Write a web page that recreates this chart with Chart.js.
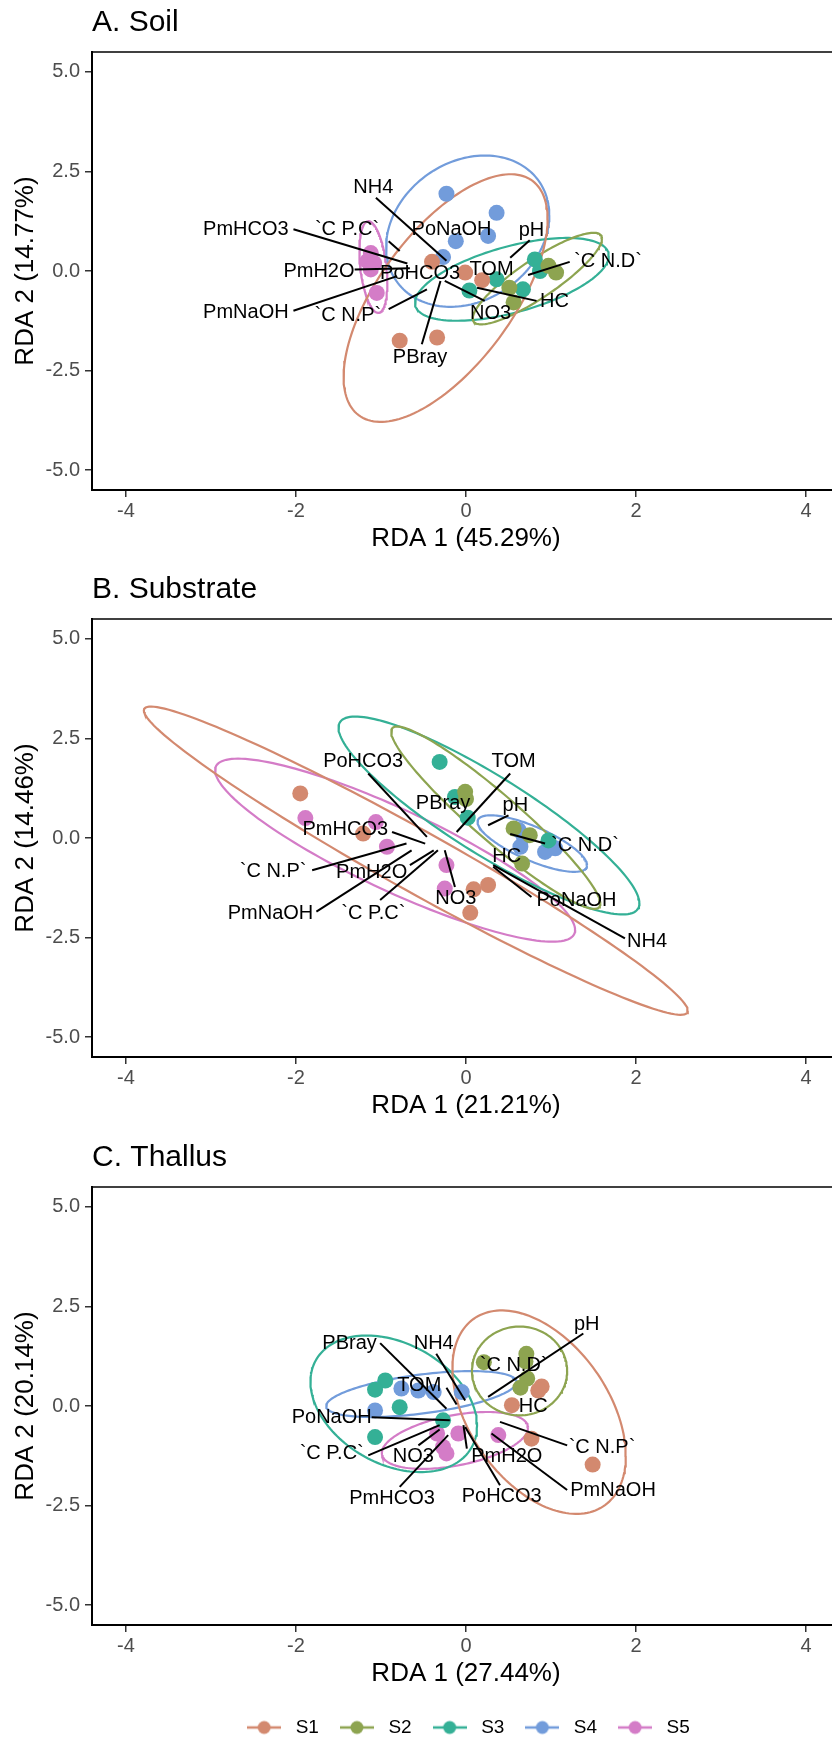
<!DOCTYPE html>
<html>
<head>
<meta charset="utf-8">
<script src="https://cdn.jsdelivr.net/npm/chart.js@4.4.1/dist/chart.umd.min.js"></script>
<style>
  html, body { margin:0; padding:0; background:#fff; width:832px; height:1742px; overflow:hidden; }
  canvas { position:absolute; left:0; }
</style>
</head>
<body>
<canvas id="cA" width="860" height="567" style="top:0px"></canvas>
<canvas id="cB" width="860" height="567" style="top:567px"></canvas>
<canvas id="cC" width="860" height="612" style="top:1135px"></canvas>
<script>
/* ---------- shared ---------- */
const groups = ['S1','S2','S3','S4','S5'];
const groupColors = ['#D3896F','#8DA450','#34B096','#729CDB','#D47CC7'];
const xTicks = [-4,-2,0,2,4];
const xTickLabels = ['-4','-2','0','2','4'];
const yTicks = [-5,-2.5,0,2.5,5];
const yTickLabels = ['-5.0','-2.5','0.0','2.5','5.0'];

/* ---------- A. Soil ---------- */
const soilS1 = [[-0.40,0.23],[-0.01,-0.04],[0.19,-0.23],[-0.78,-1.75],[-0.34,-1.67]];
const soilS2 = [[0.97,0.13],[1.06,-0.04],[0.51,-0.42],[0.56,-0.79]];
const soilS3 = [[0.04,-0.49],[0.36,-0.21],[0.67,-0.46],[0.81,0.29],[0.87,0.0]];
const soilS4 = [[-0.23,1.94],[0.36,1.46],[-0.12,0.75],[0.26,0.88],[-0.27,0.35]];
const soilS5 = [[-1.12,0.45],[-1.16,0.25],[-1.08,0.20],[-1.12,0.04],[-1.05,-0.55]];
// ellipse: centre x, centre y, half width, half height, y offset at right-most point
const soilEllipses = [[-0.24,-0.68,1.20,3.11,1.98],[0.84,-0.19,0.76,1.15,1.00],[0.54,-0.21,1.14,1.04,0.59],[0.02,1.00,0.96,1.90,0.40],[-1.09,0.10,0.165,1.15,-0.40]];
const soilVars = ['NH4','PmHCO3','`C P.C`','PoNaOH','pH','PmH2O','PoHCO3','TOM','`C N.D`','PmNaOH','`C N.P`','NO3','HC','PBray'];
const soilLabelPos = [[-1.09,2.09],[-2.59,1.05],[-1.40,1.05],[-0.17,1.05],[0.77,1.03],[-1.73,0.0],[-0.54,-0.05],[0.30,0.04],[1.67,0.23],[-2.59,-1.05],[-1.39,-1.11],[0.29,-1.06],[1.04,-0.77],[-0.54,-2.17]];
const soilTips = [[-0.23,0.26],[-0.69,0.19],[-0.78,0.50],null,[0.52,0.33],[-0.66,0.07],null,null,[0.73,-0.10],[-0.81,-0.13],[-0.46,-0.46],[-0.25,-0.25],[0.13,-0.42],[-0.30,-0.25]];
const soilSegEnds = [[-1.06,1.84],[-2.03,1.05],[-0.91,0.75],null,[0.75,0.77],[-1.31,0.04],null,null,[1.22,0.23],[-2.03,-1.00],[-0.91,-0.96],[0.22,-0.75],[0.83,-0.75],[-0.52,-1.84]];

/* ---------- B. Substrate ---------- */
const subS1 = [[-1.95,1.12],[-1.21,0.11],[0.09,-1.29],[0.26,-1.18],[0.05,-1.88]];
const subS2 = [[-0.01,1.16],[0.0,0.98],[0.56,0.24],[0.75,0.07],[0.66,-0.64]];
const subS3 = [[-0.31,1.91],[-0.13,1.03],[0.02,0.51],[0.97,-0.06]];
const subS4 = [[0.62,0.20],[0.64,-0.22],[0.93,-0.35],[1.05,-0.26],[0.68,0.03]];
const subS5 = [[-1.89,0.50],[-1.06,0.40],[-0.93,-0.22],[-0.23,-0.68],[-0.25,-1.27]];
const subEllipses = [[-0.59,-0.57,3.20,3.87,-3.77],[0.35,0.51,1.23,2.29,-2.16],[0.27,0.565,1.77,2.485,-2.205],[0.78,-0.14,0.644,0.71,-0.542],[-0.834,-0.306,2.118,2.298,-2.005]];
const subVars = ['PoHCO3','TOM','PBray','pH','PmHCO3','`C N.D`','`C N.P`','PmH2O','PmNaOH','`C P.C`','NO3','HC','PoNaOH','NH4'];
const subLabelPos = [[-1.21,1.91],[0.56,1.91],[-0.27,0.87],[0.58,0.82],[-1.42,0.21],[1.40,-0.18],[-2.27,-0.85],[-1.11,-0.87],[-2.30,-1.89],[-1.09,-1.89],[-0.12,-1.52],[0.48,-0.47],[1.30,-1.56],[2.13,-2.59]];
const subTips = [[-0.46,0.03],[-0.11,0.15],null,[0.26,0.32],[-0.48,-0.14],[0.52,0.10],[-0.70,-0.14],[-0.38,-0.31],[-0.64,-0.31],[-0.33,-0.31],[-0.25,-0.31],null,[0.32,-0.72],[0.32,-0.68]];
const subSegEnds = [[-1.15,1.62],[0.52,1.62],null,[0.50,0.57],[-0.87,0.15],[0.93,-0.14],[-1.81,-0.81],[-0.66,-0.68],[-1.76,-1.85],[-1.01,-1.56],[-0.13,-1.23],null,[0.77,-1.48],[1.87,-2.52]];

/* ---------- C. Thallus ---------- */
const thS1 = [[0.89,0.49],[0.85,0.39],[0.54,0.02],[0.77,-0.82],[1.49,-1.47]];
const thS2 = [[0.71,1.31],[0.70,1.12],[0.21,1.10],[0.72,0.69],[0.64,0.46]];
const thS3 = [[-0.95,0.64],[-1.07,0.41],[-0.78,-0.03],[-1.07,-0.78],[-0.27,-0.36]];
const thS4 = [[-0.76,0.44],[-0.56,0.39],[-0.38,0.35],[-0.05,0.35],[-1.07,-0.11]];
const thS5 = [[-0.34,-0.69],[-0.09,-0.69],[0.38,-0.73],[-0.27,-1.03],[-0.23,-1.19]];
const thEllipses = [[0.86,-0.155,1.02,2.555,-1.10],[0.63,0.88,0.56,1.115,0.0],[-0.85,0.055,0.98,1.715,-0.555],[-0.525,0.30,1.12,0.577,0.30],[-0.13,-0.865,0.86,0.715,0.315]];
const thVars = ['PBray','NH4','TOM','`C N.D`','pH','HC','PoNaOH','`C P.C`','NO3','PmH2O','`C N.P`','PmHCO3','PoHCO3','PmNaOH'];
const thLabelPos = [[-1.37,1.56],[-0.38,1.58],[-0.55,0.52],[0.56,1.02],[1.42,2.05],[0.79,-0.01],[-1.58,-0.28],[-1.58,-1.19],[-0.62,-1.26],[0.48,-1.26],[1.60,-1.03],[-0.87,-2.32],[0.42,-2.28],[1.73,-2.13]];
const thTips = [[-0.23,-0.07],[-0.01,0.14],[-0.11,0.04],null,[0.26,0.23],null,[-0.19,-0.36],[-0.31,-0.48],[-0.31,-0.59],[-0.03,-0.48],[0.40,-0.40],[-0.21,-0.73],[-0.01,-0.53],[0.30,-0.69]];
const thSegEnds = [[-1.01,1.58],[-0.35,1.31],[-0.23,0.46],null,[1.38,1.82],null,[-1.11,-0.28],[-1.15,-1.24],[-0.56,-0.99],[0.01,-1.07],[1.19,-0.99],[-0.78,-2.03],[0.40,-1.99],[1.19,-2.11]];

const FONT = '"Liberation Sans", Arial, Helvetica, sans-serif';
Chart.defaults.font.family = FONT;

function ellipsePath(e){
  const [cx, cy, hw, hh, yr] = e;
  const b = Math.sqrt(Math.max(hh*hh - yr*yr, 0));
  const pts = [];
  for (let k = 0; k <= 160; k++){
    const t = k / 160 * 2 * Math.PI;
    pts.push({x: cx + hw*Math.cos(t), y: cy + yr*Math.cos(t) + b*Math.sin(t)});
  }
  return pts;
}

function legendKey(color){
  const c = document.createElement('canvas');
  c.width = 34; c.height = 16;
  const g = c.getContext('2d');
  g.strokeStyle = color; g.lineWidth = 2.5;
  g.beginPath(); g.moveTo(0,8); g.lineTo(34,8); g.stroke();
  g.fillStyle = color;
  g.beginPath(); g.arc(17,8,6.5,0,2*Math.PI); g.fill();
  return c;
}
const legendKeys = groupColors.map(legendKey);

// variable names + panel top border
const varLabels = {
  id: 'varLabels',
  afterDatasetsDraw(chart, args, opts){
    const {ctx, chartArea, scales:{x, y}} = chart;
    ctx.save();
    ctx.strokeStyle = '#000'; ctx.lineWidth = 1.3;
    ctx.beginPath(); ctx.moveTo(chartArea.left, chartArea.top); ctx.lineTo(chartArea.right, chartArea.top); ctx.stroke();
    ctx.font = '20px ' + FONT;
    ctx.fillStyle = '#000'; ctx.textAlign = 'center'; ctx.textBaseline = 'middle';
    opts.names.forEach((n, i) => {
      ctx.fillText(n, x.getPixelForValue(opts.pos[i][0]), y.getPixelForValue(opts.pos[i][1]));
    });
    ctx.restore();
  }
};

function buildPanel(id, title, xTitle, yTitle, pointSets, ellipses, names, pos, tips, ends, withLegend){
  const datasets = [];
  tips.forEach((t, i) => {
    if (!t) return;
    datasets.push({data:[{x:t[0], y:t[1]}, {x:ends[i][0], y:ends[i][1]}], showLine:true,
      borderColor:'#000', borderWidth:2, pointRadius:0, order:0});
  });
  pointSets.forEach((pts, i) => {
    datasets.push({label:groups[i], data:pts.map(p => ({x:p[0], y:p[1]})), backgroundColor:groupColors[i],
      borderWidth:0, pointRadius:8, order:1});
  });
  ellipses.forEach((e, i) => {
    datasets.push({data:ellipsePath(e), showLine:true, borderColor:groupColors[i], borderWidth:2.2,
      pointRadius:0, tension:0, fill:false, order:2});
  });
  new Chart(document.getElementById(id), {
    type:'scatter',
    data:{datasets},
    plugins:[varLabels],
    options:{
      responsive:false, animation:false, devicePixelRatio:1, events:[],
      layout:{padding:{left:0, right:20, top:0, bottom:0}},
      plugins:{
        tooltip:{enabled:false},
        title:{display:true, text:title, align:'start', fullSize:false, color:'#000',
          font:{size:30, weight:'normal'}, padding:{top:5, bottom:11}},
        legend: withLegend ? {
          display:true, position:'bottom', fullSize:false, align:'center',
          labels:{usePointStyle:true, pointStyleWidth:44, padding:16, color:'#000', font:{size:19},
            generateLabels:() => groups.map((g, i) => ({text:g, pointStyle:legendKeys[i], fillStyle:groupColors[i],
              strokeStyle:groupColors[i], lineWidth:0, hidden:false, datasetIndex:i, fontColor:'#000'}))}
        } : {display:false},
        varLabels:{names, pos}
      },
      scales:{
        x:{
          type:'linear', min:-4.4, max:4.4,
          afterBuildTicks: s => { s.ticks = xTicks.map(v => ({value:v})); },
          afterFit: s => { s.height = 77; },
          ticks:{callback: v => xTickLabels[xTicks.indexOf(v)], color:'#4D4D4D', font:{size:20}, padding:2, maxRotation:0, autoSkip:false},
          grid:{display:true, drawOnChartArea:false, drawTicks:true, tickLength:7, color:'#333', lineWidth:1.5},
          border:{display:true, color:'#000', width:2},
          title:{display:true, text:xTitle, color:'#000', font:{size:26}, padding:{top:0, bottom:13}}
        },
        y:{
          type:'linear', min:-5.5, max:5.5,
          afterBuildTicks: s => { s.ticks = yTicks.map(v => ({value:v})); },
          afterFit: s => { s.width = 92; },
          ticks:{callback: v => yTickLabels[yTicks.indexOf(v)], color:'#4D4D4D', font:{size:20}, padding:5, autoSkip:false},
          grid:{display:true, drawOnChartArea:false, drawTicks:true, tickLength:7, color:'#333', lineWidth:1.5},
          border:{display:true, color:'#000', width:2},
          title:{display:true, text:yTitle, color:'#000', font:{size:26}, padding:{top:10, bottom:0}}
        }
      }
    }
  });
}

buildPanel('cA', 'A. Soil', 'RDA 1 (45.29%)', 'RDA 2 (14.77%)',
  [soilS1, soilS2, soilS3, soilS4, soilS5], soilEllipses, soilVars, soilLabelPos, soilTips, soilSegEnds, false);
buildPanel('cB', 'B. Substrate', 'RDA 1 (21.21%)', 'RDA 2 (14.46%)',
  [subS1, subS2, subS3, subS4, subS5], subEllipses, subVars, subLabelPos, subTips, subSegEnds, false);
buildPanel('cC', 'C. Thallus', 'RDA 1 (27.44%)', 'RDA 2 (20.14%)',
  [thS1, thS2, thS3, thS4, thS5], thEllipses, thVars, thLabelPos, thTips, thSegEnds, true);
</script>
</body>
</html>
